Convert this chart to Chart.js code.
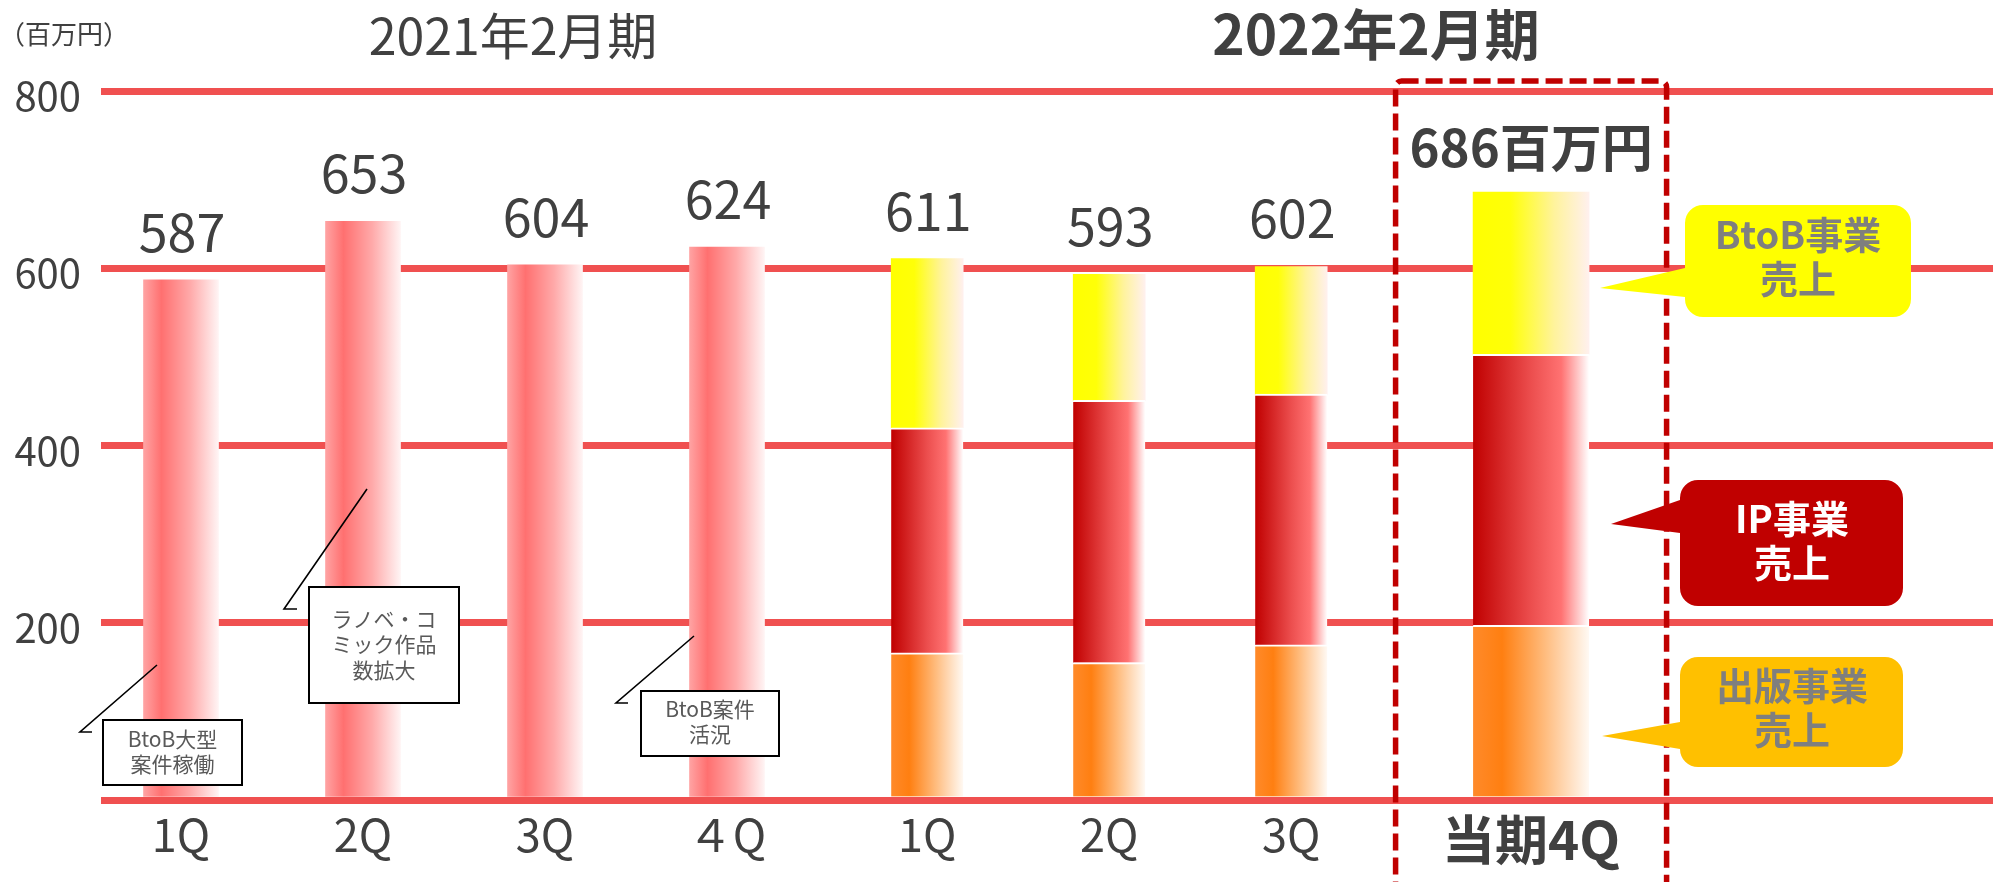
<!DOCTYPE html>
<html lang="ja">
<head>
<meta charset="utf-8">
<title>四半期売上高の推移</title>
<script src="https://cdn.jsdelivr.net/npm/chart.js@4.4.1/dist/chart.umd.min.js"></script>
<style>
  html, body { margin: 0; padding: 0; background: #ffffff; }
  #wrap { position: relative; width: 1993px; height: 882px; }
</style>
</head>
<body>
<div id="wrap"><canvas id="sales"></canvas></div>
<script>
// ---- data (million yen) ----
const quarterLabels = ['1Q', '2Q', '3Q', '４Q', '1Q', '2Q', '3Q', '当期4Q'];
const fiscalYearLabels = ['2021年2月期', '2022年2月期'];
const fy2021Sales = [587, 653, 604, 624];
const fy2022Publishing = [166, 155, 175, 197];
const fy2022IP = [254, 296, 283, 306];
const fy2022BtoB = [191, 142, 144, 183];
const yTickValues = [0, 200, 400, 600, 800];
const unitLabel = '（百万円）';
const currentSuffix = '百万円';
const segmentCallouts = [['BtoB事業', '売上'], ['IP事業', '売上'], ['出版事業', '売上']];
const noteTexts = [['BtoB大型', '案件稼働'], ['ラノベ・コ', 'ミック作品', '数拡大'], ['BtoB案件', '活況']];

// ---- layout ----
const FONT = '"Noto Sans CJK JP", "Noto Sans", sans-serif';
const TEXT = '#404040';
const currentIndex = quarterLabels.length - 1;
const fy2022Start = fy2021Sales.length;
const YEAR_GAP = 0.1;                        // small gap between the two fiscal years
const HIGHLIGHT_SHIFT = 0.318;               // extra room before the current quarter
const slotOf = i => i + (i >= fy2022Start ? YEAR_GAP : 0) + (i === currentIndex ? HIGHLIGHT_SHIFT : 0);

const GRADIENTS = {
  fy2021:     [[0, '#FFA3A3'], [0.24, '#FF7070'], [0.62, '#FFA9A9'], [1, '#FFF4F4']],
  publishing: [[0, '#FF8A2A'], [0.25, '#FF7F11'], [0.62, '#FFBC7E'], [1, '#FFF9F3']],
  ip:         [[0, '#C00000'], [0.5, '#EC4E4E'], [0.76, '#FF7272'], [1, '#FFFFFF']],
  btob:       [[0, '#FFFF00'], [0.32, '#FFFF08'], [0.7, '#FFF39C'], [1, '#FFF0EE']]
};

function gradientFill(stops, width, solid) {
  return (ctx) => {
    if (ctx.type !== 'data') return solid;
    const chart = ctx.chart;
    const xs = chart.scales.x;
    if (!chart.chartArea || !xs) return solid;
    const cx = xs.getPixelForValue(ctx.raw.x);
    const g = chart.ctx.createLinearGradient(cx - width / 2, 0, cx + width / 2, 0);
    stops.forEach(([o, c]) => g.addColorStop(o, c));
    return g;
  };
}

const points = (values, firstIndex) => values.map((v, k) => ({ x: slotOf(firstIndex + k), y: v }));
const regular = arr => arr.slice(0, arr.length - 1);
const latest = arr => arr.slice(arr.length - 1);

function segmentDataset(values, stops, solid, width, firstIndex, separator) {
  return {
    data: points(values, firstIndex),
    backgroundColor: gradientFill(stops, width, solid),
    borderColor: '#FFFFFF',
    borderWidth: separator ? { top: 2, left: 0, right: 0, bottom: 0 } : 0,
    borderSkipped: false,
    barThickness: width,
    stack: 'sales'
  };
}

const W2021 = 75, W2022 = 72, WCUR = 116;
const datasets = [
  Object.assign({ label: '2021年2月期' }, segmentDataset(fy2021Sales, GRADIENTS.fy2021, '#FF7070', W2021, 0, false)),
  Object.assign({ label: '出版事業' }, segmentDataset(regular(fy2022Publishing), GRADIENTS.publishing, '#FF7F11', W2022, fy2022Start, true)),
  Object.assign({ label: 'IP事業' }, segmentDataset(regular(fy2022IP), GRADIENTS.ip, '#C00000', W2022, fy2022Start, true)),
  Object.assign({ label: 'BtoB事業' }, segmentDataset(regular(fy2022BtoB), GRADIENTS.btob, '#FFFF00', W2022, fy2022Start, false)),
  Object.assign({ label: '出版事業（当期）' }, segmentDataset(latest(fy2022Publishing), GRADIENTS.publishing, '#FF7F11', WCUR, currentIndex, true)),
  Object.assign({ label: 'IP事業（当期）' }, segmentDataset(latest(fy2022IP), GRADIENTS.ip, '#C00000', WCUR, currentIndex, true)),
  Object.assign({ label: 'BtoB事業（当期）' }, segmentDataset(latest(fy2022BtoB), GRADIENTS.btob, '#FFFF00', WCUR, currentIndex, false))
];

const quarterTotals = fy2021Sales.concat(fy2022Publishing.map((v, k) => v + fy2022IP[k] + fy2022BtoB[k]));

// ---- decorations drawn on top of the bars ----
function roundRectPath(ctx, l, t, r, b, rad) {
  ctx.beginPath();
  ctx.moveTo(l + rad, t);
  ctx.lineTo(r - rad, t);
  ctx.arcTo(r, t, r, t + rad, rad);
  ctx.lineTo(r, b - rad);
  ctx.arcTo(r, b, r - rad, b, rad);
  ctx.lineTo(l + rad, b);
  ctx.arcTo(l, b, l, b - rad, rad);
  ctx.lineTo(l, t + rad);
  ctx.arcTo(l, t, l + rad, t, rad);
  ctx.closePath();
}

function drawCallout(ctx, c, lines) {
  const rad = 18;
  ctx.beginPath();
  ctx.moveTo(c.l + rad, c.t);
  ctx.lineTo(c.r - rad, c.t);
  ctx.arcTo(c.r, c.t, c.r, c.t + rad, rad);
  ctx.lineTo(c.r, c.b - rad);
  ctx.arcTo(c.r, c.b, c.r - rad, c.b, rad);
  ctx.lineTo(c.l + rad, c.b);
  ctx.arcTo(c.l, c.b, c.l, c.b - rad, rad);
  ctx.lineTo(c.l, c.baseB);
  ctx.lineTo(c.tipX, c.tipY);
  ctx.lineTo(c.l, c.baseT);
  ctx.lineTo(c.l, c.t + rad);
  ctx.arcTo(c.l, c.t, c.l + rad, c.t, rad);
  ctx.closePath();
  ctx.fillStyle = c.fill;
  ctx.fill();
  ctx.fillStyle = c.color;
  ctx.font = 'bold 38px ' + FONT;
  ctx.textAlign = 'center';
  ctx.textBaseline = 'middle';
  lines.forEach((s, k) => ctx.fillText(s, c.cx, c.ty + k * 44));
}

function drawNote(ctx, n, lines) {
  ctx.fillStyle = '#FFFFFF';
  ctx.fillRect(n.l, n.t, n.r - n.l, n.b - n.t);
  ctx.strokeStyle = '#000000';
  ctx.lineWidth = 2;
  ctx.strokeRect(n.l, n.t, n.r - n.l, n.b - n.t);
  ctx.beginPath();
  ctx.moveTo(n.lead[0][0], n.lead[0][1]);
  n.lead.slice(1).forEach(p => ctx.lineTo(p[0], p[1]));
  ctx.lineWidth = 1.6;
  ctx.stroke();
  ctx.fillStyle = '#595959';
  ctx.font = '21px ' + FONT;
  ctx.textAlign = 'center';
  ctx.textBaseline = 'middle';
  const cx = (n.l + n.r) / 2;
  lines.forEach((s, k) => ctx.fillText(s, cx, n.ty + k * 25.5));
}

const decorations = {
  id: 'decorations',
  afterDatasetsDraw(chart) {
    const ctx = chart.ctx;
    const xs = chart.scales.x, ys = chart.scales.y;
    ctx.save();

    // highlight frame around the current quarter
    const cx = xs.getPixelForValue(slotOf(currentIndex));
    ctx.setLineDash([17, 7]);
    ctx.lineWidth = 5.5;
    ctx.strokeStyle = '#C00000';
    roundRectPath(ctx, cx - 135.5, 81, cx + 135.5, 910, 6);
    ctx.stroke();
    ctx.setLineDash([]);

    // totals above each bar
    ctx.textAlign = 'center';
    ctx.textBaseline = 'alphabetic';
    quarterTotals.forEach((total, i) => {
      const x = xs.getPixelForValue(slotOf(i));
      const y = ys.getPixelForValue(total);
      ctx.fillStyle = TEXT;
      if (i === currentIndex) {
        ctx.font = 'bold 51px ' + FONT;
        ctx.fillText(total + currentSuffix, x, y - 25);
      } else {
        ctx.font = '52px ' + FONT;
        ctx.fillText(String(total), x + 1, y - 28);
      }
    });

    // fiscal year headers and unit
    ctx.fillStyle = TEXT;
    ctx.font = '50px ' + FONT;
    ctx.fillText(fiscalYearLabels[0], 513, 55);
    ctx.font = 'bold 55px ' + FONT;
    ctx.fillText(fiscalYearLabels[1], 1376, 55);
    ctx.font = '26px ' + FONT;
    ctx.textAlign = 'left';
    ctx.textBaseline = 'middle';
    ctx.fillText(unitLabel, -1, 34);

    // segment callouts
    drawCallout(ctx, { l: 1685, t: 205, r: 1911, b: 317, baseT: 268, baseB: 297, tipX: 1600, tipY: 288,
      fill: '#FFFF00', color: '#7F7F7F', cx: 1798, ty: 235 }, segmentCallouts[0]);
    drawCallout(ctx, { l: 1680, t: 480, r: 1903, b: 606, baseT: 500, baseB: 533, tipX: 1611, tipY: 524,
      fill: '#C00000', color: '#FFFFFF', cx: 1792, ty: 519 }, segmentCallouts[1]);
    drawCallout(ctx, { l: 1680, t: 657, r: 1903, b: 767, baseT: 722, baseB: 749, tipX: 1602, tipY: 736,
      fill: '#FFC000', color: '#7F7F7F', cx: 1792, ty: 686 }, segmentCallouts[2]);

    // notes with leader lines
    drawNote(ctx, { l: 103, t: 720, r: 242, b: 785, ty: 739, lead: [[92, 732], [80, 732], [157, 665]] }, noteTexts[0]);
    drawNote(ctx, { l: 309, t: 587, r: 459, b: 703, ty: 619, lead: [[297, 609], [284, 609], [367, 489]] }, noteTexts[1]);
    drawNote(ctx, { l: 641, t: 691, r: 779, b: 756, ty: 709, lead: [[628, 703], [616, 703], [694, 636]] }, noteTexts[2]);

    ctx.restore();
  }
};

new Chart(document.getElementById('sales'), {
  type: 'bar',
  data: { datasets },
  options: {
    responsive: true,
    maintainAspectRatio: false,
    animation: false,
    devicePixelRatio: 1,
    layout: { padding: { top: 91, right: 0, bottom: 0, left: 0 } },
    plugins: { legend: { display: false }, tooltip: { enabled: false }, title: { display: false } },
    scales: {
      x: {
        type: 'linear',
        stacked: true,
        offset: false,
        min: -0.4396,
        max: 9.956,
        grid: { display: false, drawTicks: false, offset: false },
        border: { display: false },
        afterBuildTicks: (axis) => { axis.ticks = quarterLabels.map((_, i) => ({ value: slotOf(i) })); },
        afterFit: (axis) => { axis.height = 82; },
        ticks: {
          autoSkip: false,
          maxRotation: 0,
          minRotation: 0,
          padding: 8,
          color: TEXT,
          callback: (value, index) => quarterLabels[index],
          font: (c) => c.index === currentIndex
            ? { family: FONT, size: 53, weight: 'bold' }
            : { family: FONT, size: 45, weight: 'normal' }
        }
      },
      y: {
        stacked: true,
        min: 0,
        max: 800,
        grid: { color: '#F05050', lineWidth: 7, drawTicks: false },
        border: { display: false },
        afterBuildTicks: (axis) => { axis.ticks = yTickValues.map(v => ({ value: v })); },
        afterFit: (axis) => { axis.width = 101; },
        ticks: {
          padding: 20,
          labelOffset: 5,
          color: TEXT,
          font: { family: FONT, size: 40 },
          callback: (v) => (v === 0 ? '' : String(v))
        }
      }
    }
  },
  plugins: [decorations]
});
</script>
</body>
</html>
